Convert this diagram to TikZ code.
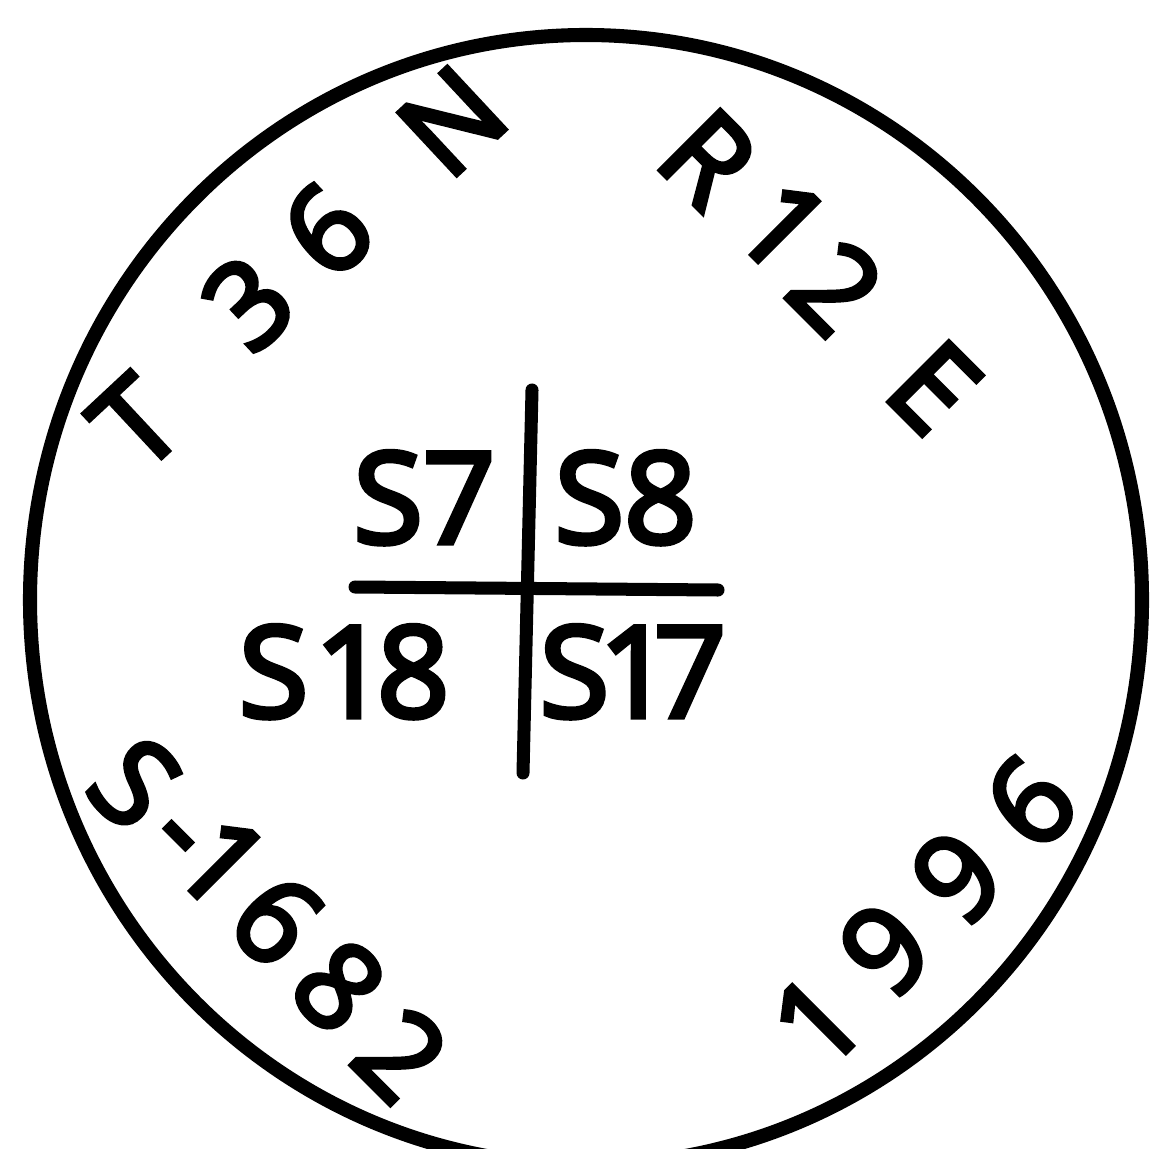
\documentclass[tikz,border=0pt]{standalone}
\usepackage{fontspec}
\setmainfont{Open Sans}[FakeBold=4]
\usetikzlibrary{positioning}
\tikzset{
  rim/.style={draw=black, line width=4pt},
  crossline/.style={draw=black, line width=3.7pt, line cap=round},
  secnum/.style={font=\fontsize{36}{40}\selectfont, inner sep=0pt},
  rimtext/.style={font=\fontsize{34}{38}\selectfont, inner sep=0pt,
    text height=24.3pt, text depth=0pt}
}

\begin{document}
\begin{tikzpicture}[x=0.01cm, y=-0.01cm]
  \useasboundingbox (0,0) rectangle (1152,1149);
  \clip (0,0) rectangle (1152,1149);
  \draw[rim] (586,600) ellipse [x radius=556, y radius=565];

  % section corner cross
  \coordinate (ntop) at (532,390);
  \coordinate (nbot) at (523,773);
  \coordinate (wend) at (355,587);
  \coordinate (eend) at (718,590);
  \draw[crossline] (ntop) -- (nbot);
  \draw[crossline] (wend) -- (eend);

  \node[secnum, anchor=base east] (nw) at (496,543) {S7};
  \node[secnum, anchor=base west] (ne) at (554,543) {S8};
  \node[secnum, anchor=base east] (sw) at (450,717) {S\hspace{0.05em}1\kern-0.08em 8};
  \node[secnum, anchor=base west] (se) at (539,717) {S\kern-0.08em 1\kern-0.14em 7};

  % lettering round the rim
  \foreach \ch/\px/\py [count=\i] in {T/136/423, 3/248/303, 6/327/230, N/452/121}
    \node[rimtext, rotate=43] (twp\i) at (\px,\py) {\ch};
  \foreach \ch/\px/\py [count=\i] in {R/708/158, 1/783/226, 2/836/288, E/934/387}
    \node[rimtext, rotate=-45] (rge\i) at (\px,\py) {\ch};
  \foreach \ch/\px/\py [count=\i] in {S/135/783, -/186/828, 1/222/862, 6/277/920, 8/339/986, 2/401/1055}
    \node[rimtext, rotate=-45] (cap\i) at (\px,\py) {\ch};
  \foreach \ch/\px/\py [count=\i] in {1/817/1021, 9/885/949, 9/957/877, 6/1030/802}
    \node[rimtext, rotate=45] (yr\i) at (\px,\py) {\ch};
\end{tikzpicture}
\end{document}
